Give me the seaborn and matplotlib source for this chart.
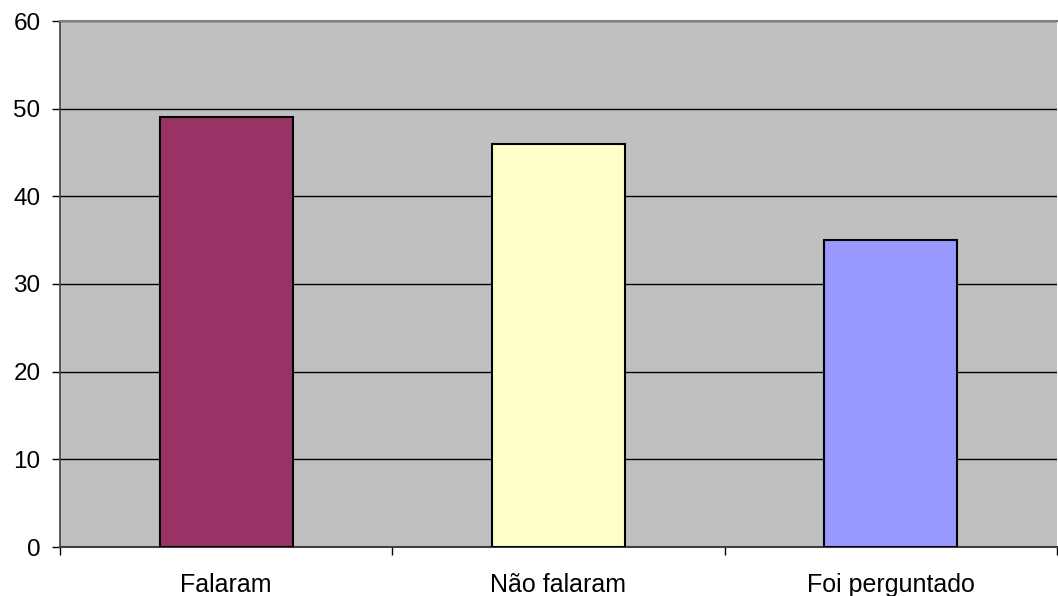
import matplotlib
matplotlib.use("Agg")
import matplotlib.pyplot as plt
import seaborn as sns
import pandas as pd
from matplotlib.ticker import FixedLocator

categories = ["Falaram", "Não falaram", "Foi perguntado"]
values = [49, 46, 35]
colors = ["#993366", "#FFFFCC", "#9999FF"]

sns.set_style("white")
plt.rcParams['font.family'] = ['Liberation Sans', 'DejaVu Sans']

df = pd.DataFrame({"cat": categories, "val": values})

fig = plt.figure(figsize=(10.58, 5.96), dpi=100)
ax = fig.add_axes([60/1058, 49/596, 997/1058, 526/596])
ax.set_facecolor("#C0C0C0")

sns.barplot(data=df, x="cat", y="val", hue="cat", palette=colors, legend=False,
            saturation=1, width=0.4, edgecolor="black", linewidth=1.5, ax=ax, zorder=3)

ax.set_xlim(-0.5, 2.5)
ax.set_ylim(0, 60)
ax.set_yticks(range(0, 61, 10))
ax.yaxis.grid(True, color="black", linewidth=1, zorder=0)
ax.set_axisbelow(True)
ax.set_xlabel("")
ax.set_ylabel("")

ax.spines["right"].set_visible(False)
ax.spines["top"].set_color("#808080")
ax.spines["top"].set_linewidth(1.5)
ax.spines["top"].set_zorder(5)
ax.spines["left"].set_color("#404040")
ax.spines["left"].set_linewidth(1.2)
ax.spines["bottom"].set_color("#404040")
ax.spines["bottom"].set_linewidth(1.5)

ax.tick_params(axis="y", length=6, width=1, color="black", labelsize=17.5, labelcolor="black",
               pad=8, direction="out", left=True)
ax.tick_params(axis="x", which="major", length=0, labelsize=18, labelcolor="black", pad=19)
ax.xaxis.set_minor_locator(FixedLocator([-0.5, 0.5, 1.5, 2.5]))
ax.tick_params(axis="x", which="minor", length=6, width=1, color="black", direction="out", bottom=True)

fig.savefig("out.png", dpi=100)
